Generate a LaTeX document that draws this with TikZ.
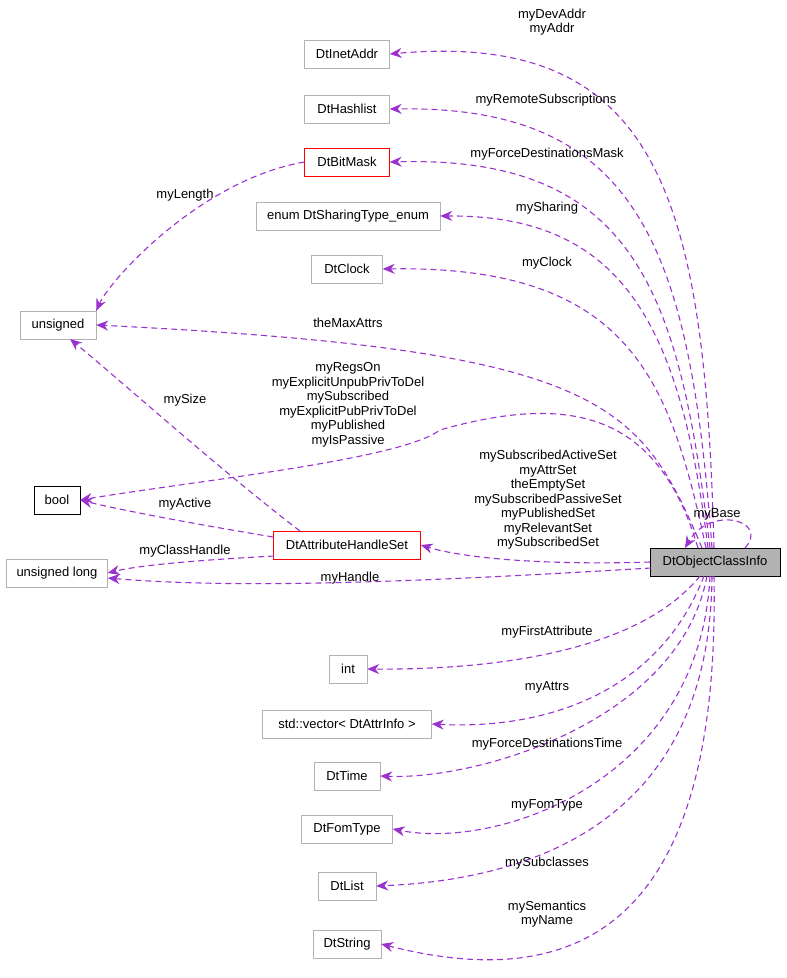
\documentclass[tikz,border=0pt]{standalone}
\usepackage{fontspec}
\setmainfont{Liberation Sans}
\usetikzlibrary{arrows.meta}
\definecolor{edge}{HTML}{9A32CD}
\begin{document}
\begin{tikzpicture}[x=1pt,y=-1pt,
  box/.style={draw=black!30,fill=white,minimum height=28pt,inner xsep=4pt,font=\fontsize{13}{15}\selectfont},
  redbox/.style={box,draw=red},
  lab/.style={font=\fontsize{13}{14.5}\selectfont,align=center},
  rel/.style={draw=edge,dashed,dash pattern=on 6pt off 4pt,-{Stealth[length=12pt,width=10pt]},line width=1.1pt}]
\useasboundingbox (0,0) rectangle (787,978);
\node[box,minimum width=85pt] (inet) at (347,54) {DtInetAddr};
\node[box,minimum width=85pt] (hash) at (347,109) {DtHashlist};
\node[redbox,minimum width=85pt] (bit) at (347,162) {DtBitMask};
\node[box,minimum width=184pt] (enum) at (348,216) {enum DtSharingType\_enum};
\node[box,minimum width=71pt] (clock) at (347,269) {DtClock};
\node[box,minimum width=76pt] (uns) at (58,325) {unsigned};
\node[box,draw=black,minimum width=46pt] (bool) at (57,500) {bool};
\node[box,minimum width=101pt] (ulong) at (57,573) {unsigned long};
\node[redbox,minimum width=147pt] (ahs) at (347,545) {DtAttributeHandleSet};
\node[box,draw=black,fill=black!30,minimum width=130pt] (oci) at (715,562) {DtObjectClassInfo};
\node[box,minimum width=38pt] (int) at (348,669) {int};
\node[box,minimum width=169pt] (vec) at (347,724) {std::vector< DtAttrInfo >};
\node[box,minimum width=66pt] (time) at (347,776) {DtTime};
\node[box,minimum width=91pt] (fom) at (347,829) {DtFomType};
\node[box,minimum width=58pt] (list) at (347,886) {DtList};
\node[box,minimum width=68pt] (str) at (347,944) {DtString};

\draw[rel] (714,548) .. controls (705,200) and (660,30) .. (inet.east);
\draw[rel] (712,548) .. controls (690,250) and (640,105) .. (hash.east);
\draw[rel] (710,548) .. controls (680,300) and (640,155) .. (bit.east);
\draw[rel] (708,548) .. controls (680,320) and (620,215) .. (enum.east);
\draw[rel] (706,548) .. controls (670,380) and (630,265) .. (clock.east);
\draw[rel] (702,548) .. controls (640,400) and (600,350) .. (uns.east);
\draw[rel] (698,548) .. controls (660,420) and (580,390) .. (440,430) .. controls (400,460) and (200,480) .. (bool.east);
\draw[rel] (bit.west) .. controls (200,180) and (110,280) .. (uns.north east);
\draw[rel] (300,531) .. controls (220,470) and (120,380) .. (70,339);
\draw[rel] (ahs.west) ++(0,-8) .. controls (200,525) and (120,510) .. (bool.east);
\draw[rel] (274,556) .. controls (200,560) and (140,565) .. (ulong.east);
\draw[rel] (oci.west) .. controls (560,565) and (470,560) .. (ahs.east);
\draw[rel] (651,568) .. controls (450,580) and (250,590) .. ([yshift=-5pt]ulong.east);
\draw[rel] (745,548) .. controls (770,520) and (710,505) .. (685,548);
\draw[rel] (700,576) .. controls (640,650) and (500,670) .. (int.east);
\draw[rel] (704,576) .. controls (660,690) and (550,730) .. (vec.east);
\draw[rel] (707,576) .. controls (680,720) and (480,780) .. (time.east);
\draw[rel] (710,576) .. controls (700,780) and (500,850) .. (fom.east);
\draw[rel] (712,576) .. controls (710,830) and (520,880) .. (list.east);
\draw[rel] (714,576) .. controls (720,900) and (600,1000) .. (str.east);

\node[lab] (l1) at (552,22) {myDevAddr\\myAddr};
\node[lab] (l2) at (546,100) {myRemoteSubscriptions};
\node[lab] (l3) at (547,154) {myForceDestinationsMask};
\node[lab] (l4) at (185,195) {myLength};
\node[lab] (l5) at (547,208) {mySharing};
\node[lab] (l6) at (547,263) {myClock};
\node[lab] (l7) at (348,323) {theMaxAttrs};
\node[lab] (l8) at (348,405) {myRegsOn\\myExplicitUnpubPrivToDel\\mySubscribed\\myExplicitPubPrivToDel\\myPublished\\myIsPassive};
\node[lab] (l9) at (185,400) {mySize};
\node[lab] (l10) at (548,500) {mySubscribedActiveSet\\myAttrSet\\theEmptySet\\mySubscribedPassiveSet\\myPublishedSet\\myRelevantSet\\mySubscribedSet};
\node[lab] (l11) at (717,514) {myBase};
\node[lab] (l12) at (185,504) {myActive};
\node[lab] (l13) at (185,551) {myClassHandle};
\node[lab] (l14) at (350,578) {myHandle};
\node[lab] (l15) at (547,632) {myFirstAttribute};
\node[lab] (l16) at (547,687) {myAttrs};
\node[lab] (l17) at (547,744) {myForceDestinationsTime};
\node[lab] (l18) at (547,805) {myFomType};
\node[lab] (l19) at (547,863) {mySubclasses};
\node[lab] (l20) at (547,914) {mySemantics\\myName};
\end{tikzpicture}
\end{document}
